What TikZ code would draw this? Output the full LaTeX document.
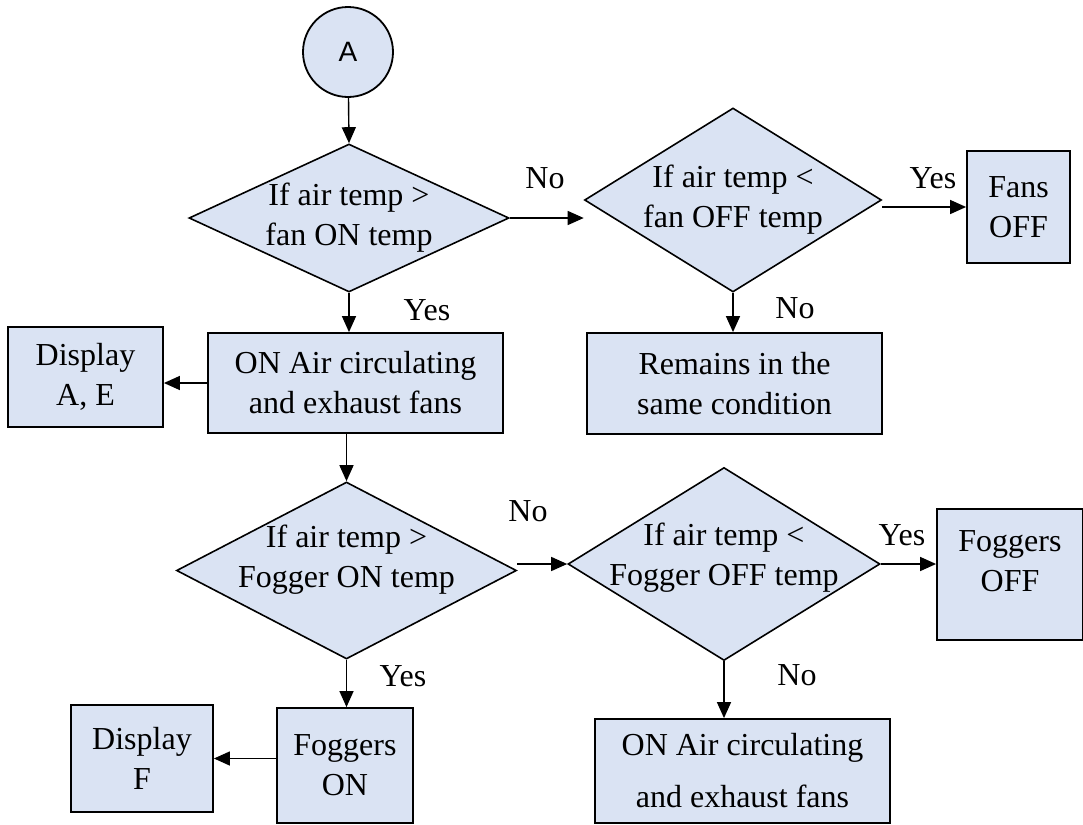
\documentclass[tikz,border=0pt]{standalone}
\usepackage{fontspec}
\setmainfont{Liberation Serif}
\newfontfamily\arialfont{Liberation Sans}
\usetikzlibrary{shapes.geometric}
\usetikzlibrary{arrows.meta}
\definecolor{flowblue}{HTML}{DAE3F3}
\tikzset{
    flow text/.style={font=\fontsize{16}{20}\selectfont},
    process box/.style={draw,line width=0.9pt,fill=flowblue,rectangle,inner sep=0pt,align=center,flow text},
    decision box/.style={draw,line width=0.8pt,fill=flowblue,diamond,inner sep=0pt,flow text},
    decision text/.style={align=center,flow text,inner sep=0pt},
    start circle/.style={draw,line width=0.9pt,fill=flowblue,circle,inner sep=0pt,font=\arialfont\fontsize{14}{16}\selectfont},
    flow arrow/.style={line width=0.7pt,-{Triangle[length=8pt,width=7pt]}},
    answer/.style={flow text,inner sep=0pt},
}

\begin{document}
\begin{tikzpicture}[x=0.5pt,y=-0.5pt]
\useasboundingbox (0,0) rectangle (1083,825);
\node[start circle,minimum size=45pt] (startA) at (348,52) {A};
\node[decision box,minimum width=160pt,minimum height=74pt,label={[decision text]center:{If air temp >\\fan ON temp}}] (dec1) at (349,218) {};
\node[decision box,minimum width=148.5pt,minimum height=92pt,label={[decision text]center:{If air temp <\\fan OFF temp}}] (dec2) at (733,200) {};
\node[process box,minimum width=51.5pt,minimum height=56pt] (fansoff) at (1018.5,207) {Fans\\OFF};
\node[process box,minimum width=147.5pt,minimum height=50pt] (fanson) at (355.5,383) {ON Air circulating\\and exhaust fans};
\node[process box,minimum width=77.5pt,minimum height=50pt] (dispAE) at (85.5,377) {Display\\A, E};
\node[process box,minimum width=147.5pt,minimum height=50.5pt] (remain) at (734.5,383.5) {Remains in the\\same condition};
\node[decision box,minimum width=170pt,minimum height=88.5pt,label={[decision text,yshift=5.5pt]center:{If air temp >\\Fogger ON temp}}] (dec3) at (346.5,570.5) {};
\node[decision box,minimum width=156pt,minimum height=96.5pt,label={[decision text,yshift=3pt]center:{If air temp <\\Fogger OFF temp}}] (dec4) at (724,564) {};
\node[process box,minimum width=73pt,minimum height=65.5pt,text depth=13pt] (fogoff) at (1010,574.5) {Foggers\\OFF};
\node[process box,minimum width=147.5pt,minimum height=52pt] (fanson2) at (742.5,771) {ON Air circulating\\[6pt]and exhaust fans};
\node[process box,minimum width=68pt,minimum height=57.5pt] (fogon) at (345,765.5) {Foggers\\ON};
\node[process box,minimum width=71pt,minimum height=53.5pt] (dispF) at (142,758.5) {Display\\F};

\node[answer] (no1) at (545,178) {No};
\node[answer] (yes1) at (427,310) {Yes};
\node[answer] (yes2) at (933,178) {Yes};
\node[answer] (no2) at (795,308) {No};
\node[answer] (no3) at (528,511) {No};
\node[answer] (yes3) at (403,676) {Yes};
\node[answer] (yes4) at (902,535) {Yes};
\node[answer] (no4) at (797,675) {No};

\draw[flow arrow] (startA) -- (dec1.north);
\draw[flow arrow] (dec1.east) -- (dec1.east -| dec2.west);
\draw[flow arrow] (fansoff.west -| dec2.east) -- (fansoff.west);
\draw[flow arrow] (dec1.south) -- (dec1.south |- fanson.north);
\draw[flow arrow] (fanson.west) -- (fanson.west -| dispAE.east);
\draw[flow arrow] (dec2.south) -- (dec2.south |- remain.north);
\draw[flow arrow] (fanson.south -| dec3.north) -- (dec3.north);
\draw[flow arrow] (dec4.west -| dec3.east) -- (dec4.west);
\draw[flow arrow] (dec4.east) -- (dec4.east -| fogoff.west);
\draw[flow arrow] (dec4.south) -- (dec4.south |- fanson2.north);
\draw[flow arrow] (dec3.south) -- (dec3.south |- fogon.north);
\draw[flow arrow] (fogon.west |- dispF.east) -- (dispF.east);
\end{tikzpicture}
\end{document}
